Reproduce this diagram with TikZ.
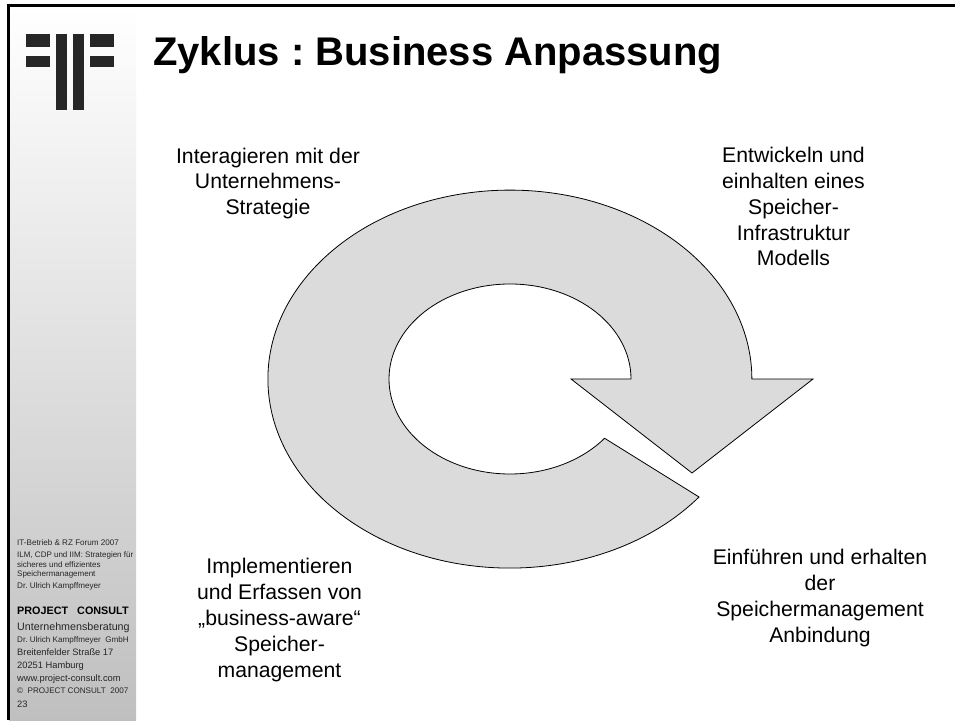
\documentclass[tikz,border=0pt]{standalone}
\usepackage{fontspec}
\setmainfont{Liberation Sans}
\frenchspacing
\begin{document}
\begin{tikzpicture}[x=1pt,y=1pt,
  lbl/.style={align=center,font=\fontsize{21.2}{25.8}\selectfont,inner sep=0pt,text=black},
  side/.style={anchor=north west,inner sep=0pt,text=black!85,align=left},
  bar/.style={fill=black!85,draw=none}]
\useasboundingbox (0,0) rectangle (955,720);
\fill[white] (0,0) rectangle (955,720);
\shade[top color=white,bottom color=black!25,draw=none] (9,0) rectangle (136,714);
\draw[line width=3pt,black] (8.5,0) -- (8.5,714.5) -- (955,714.5);
\fill[bar] (26,686) rectangle (50,673);
\fill[bar] (26,664) rectangle (50,653);
\fill[bar] (90,686) rectangle (114,673);
\fill[bar] (90,664) rectangle (114,653);
\fill[bar] (56,686) rectangle (67,610);
\fill[bar] (73,686) rectangle (84,610);
\node[anchor=base west,inner sep=0pt,font=\fontsize{40}{44}\selectfont\bfseries] (title) at (153,654.5) {Zyklus : Business Anpassung};
\draw[fill=black!14,line width=0.8pt,line join=miter]
  (631,341) arc[start angle=0,end angle=321.4,x radius=121,y radius=95]
  -- (699,223) arc[start angle=-38.6,end angle=-360,x radius=242,y radius=189]
  -- (813,341) -- (692,247) -- (571,341) -- cycle;
\node[lbl] (a) at (268,536.5) {Interagieren mit der\\Unternehmens-\\Strategie};
\node[lbl] (b) at (793.5,513.2) {Entwickeln und\\einhalten eines\\Speicher-\\Infrastruktur\\Modells};
\node[lbl] (c) at (820,122) {Einführen und erhalten\\der\\Speichermanagement\\Anbindung};
\node[lbl] (d) at (279.5,100) {Implementieren\\und Erfassen von\\„business-aware“\\Speicher-\\management};
\node[side,font=\fontsize{8.1}{9.5}\selectfont] (s1) at (17,181) {IT-Betrieb \& RZ Forum 2007};
\node[side,font=\fontsize{8}{9.6}\selectfont] (s2) at (17,168.5) {ILM, CDP und IIM: Strategien für\\sicheres und effizientes\\Speichermanagement};
\node[side,font=\fontsize{8.1}{9.5}\selectfont] (s3) at (17,138) {Dr. Ulrich Kampffmeyer};
\node[side,font=\fontsize{10.8}{12}\selectfont\bfseries,text=black] (s4) at (17,113.5) {PROJECT\ \ \ CONSULT};
\node[side,font=\fontsize{10.7}{12}\selectfont] (s5) at (17,97.5) {Unternehmensberatung};
\node[side,font=\fontsize{8.1}{9.5}\selectfont] (s6) at (17,84) {Dr. Ulrich Kampffmeyer\ \ GmbH};
\node[side,font=\fontsize{9.3}{11}\selectfont] (s7) at (17,71.5) {Breitenfelder Straße 17};
\node[side,font=\fontsize{9.3}{11}\selectfont] (s8) at (17,58.5) {20251 Hamburg};
\node[side,font=\fontsize{9.36}{11}\selectfont] (s9) at (17,45) {www.project-consult.com};
\node[side,font=\fontsize{8.1}{9.5}\selectfont] (s10) at (17,32) {©\ \ PROJECT CONSULT\ \ 2007};
\node[side,font=\fontsize{9.3}{11}\selectfont] (s11) at (17,19.5) {23};
\end{tikzpicture}
\end{document}
